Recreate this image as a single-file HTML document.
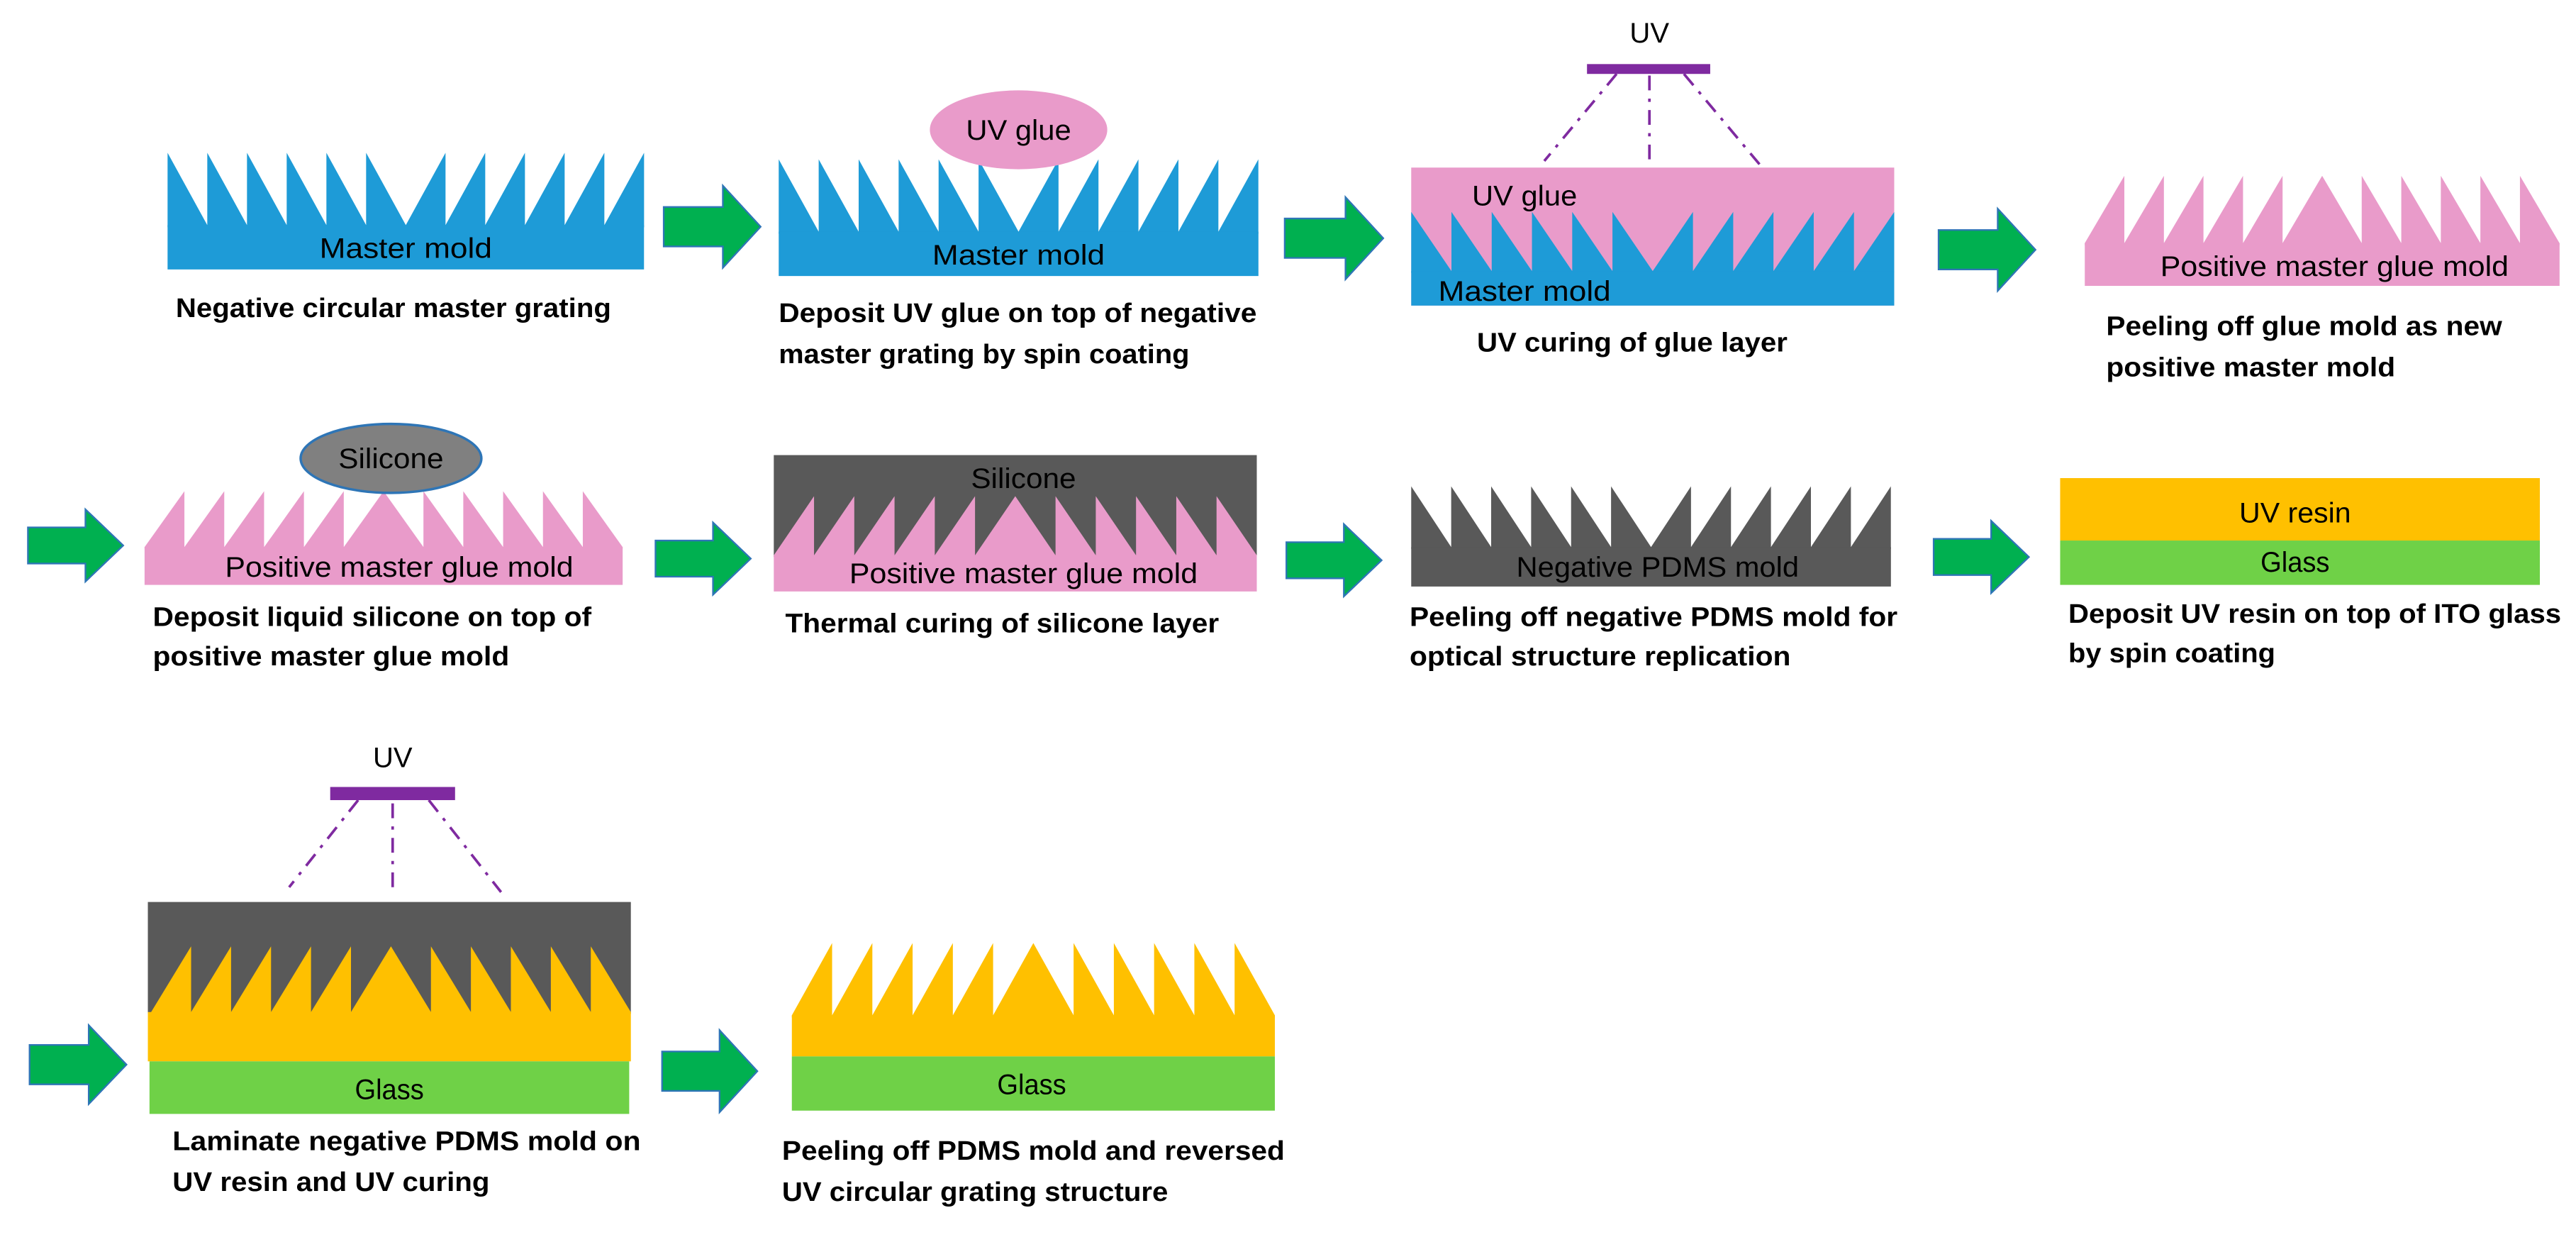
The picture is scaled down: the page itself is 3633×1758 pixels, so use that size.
<!DOCTYPE html>
<html><head><meta charset="utf-8"><style>
html,body{margin:0;padding:0;background:#fff;}
svg{display:block;}
text{font-family:"Liberation Sans",sans-serif;fill:#000;}
.cap{font-weight:bold;font-size:16.5px;}
.lab{font-size:17px;}
</style></head><body>
<svg width="3633" height="1758" viewBox="0 0 1568 759" preserveAspectRatio="none" xmlns="http://www.w3.org/2000/svg">
<defs>
<polygon id="neg" points="0,1.03 0,0 1,1 1,0 2,1 2,0 3,1 3,0 4,1 4,0 5,1 5,0 6,1 7,0 7,1 8,0 8,1 9,0 9,1 10,0 10,1 11,0 11,1 12,0 12,1.03"/>
<polygon id="pos" points="0,1.03 0,1 1,0 1,1 2,0 2,1 3,0 3,1 4,0 4,1 5,0 5,1 6,0 7,1 7,0 8,1 8,0 9,1 9,0 10,1 10,0 11,1 11,0 12,1 12,1.03"/>
</defs>
<g fill="#00b050" stroke="#2e75b6" stroke-width="1">
<polygon points="404,126 440,126 440,113 463,138 440,163 440,150 404,150"/>
<polygon points="782,133 819,133 819,120 842,145 819,170 819,157 782,157"/>
<polygon points="1180,140 1216,140 1216,127 1239,152 1216,177 1216,164 1180,164"/>
<polygon points="17,321 52,321 52,310 75,332 52,354 52,343 17,343"/>
<polygon points="399,329 434,329 434,318 457,340 434,362 434,351 399,351"/>
<polygon points="783,330 818,330 818,319 841,341 818,363 818,352 783,352"/>
<polygon points="1177,328 1212,328 1212,317 1235,339 1212,361 1212,350 1177,350"/>
<polygon points="18,636 54,636 54,624 77,648 54,672 54,660 18,660"/>
<polygon points="403,640 438,640 438,627 461,652 438,677 438,664 403,664"/>
</g>
<!-- P1 -->
<use href="#neg" fill="#1e9bd7" transform="translate(102,93) scale(24.17,44)"/>
<rect x="102" y="137" width="290" height="27" fill="#1e9bd7"/>
<text class="lab" x="247" y="157" text-anchor="middle" textLength="105" lengthAdjust="spacingAndGlyphs">Master mold</text>
<text class="cap" x="107" y="193" textLength="265" lengthAdjust="spacingAndGlyphs">Negative circular master grating</text>
<!-- P2 -->
<use href="#neg" fill="#1e9bd7" transform="translate(474,97) scale(24.33,44)"/>
<rect x="474" y="141" width="292" height="27" fill="#1e9bd7"/>
<ellipse cx="620" cy="79" rx="54" ry="24" fill="#e99bca"/>
<text class="lab" x="620" y="85" text-anchor="middle" textLength="64" lengthAdjust="spacingAndGlyphs">UV glue</text>
<text class="lab" x="620" y="161" text-anchor="middle" textLength="105" lengthAdjust="spacingAndGlyphs">Master mold</text>
<text class="cap" x="474" y="196" textLength="291" lengthAdjust="spacingAndGlyphs">Deposit UV glue on top of negative</text>
<text class="cap" x="474" y="221" textLength="250" lengthAdjust="spacingAndGlyphs">master grating by spin coating</text>
<!-- P3 -->
<rect x="859" y="102" width="294" height="84" fill="#e99bca"/>
<use href="#neg" fill="#1e9bd7" transform="translate(859,129) scale(24.5,36)"/>
<rect x="859" y="165" width="294" height="21" fill="#1e9bd7"/>
<text class="lab" x="928" y="125" text-anchor="middle" textLength="64" lengthAdjust="spacingAndGlyphs">UV glue</text>
<text class="lab" x="928" y="183" text-anchor="middle" textLength="105" lengthAdjust="spacingAndGlyphs">Master mold</text>
<text class="lab" x="1004" y="26" text-anchor="middle" textLength="24" lengthAdjust="spacingAndGlyphs">UV</text>
<rect x="966" y="39" width="75" height="6" fill="#7f2aa0"/>
<g stroke="#7f2aa0" stroke-width="1.6" stroke-dasharray="9 5 2 5" fill="none">
<line x1="984" y1="45" x2="940" y2="98"/>
<line x1="1004" y1="46" x2="1004" y2="100"/>
<line x1="1025" y1="45" x2="1071" y2="100"/>
</g>
<text class="cap" x="899" y="214" textLength="189" lengthAdjust="spacingAndGlyphs">UV curing of glue layer</text>
<!-- P4 -->
<use href="#pos" fill="#e99bca" transform="translate(1269,107) scale(24.08,41)"/>
<rect x="1269" y="148" width="289" height="26" fill="#e99bca"/>
<text class="lab" x="1421" y="168" text-anchor="middle" textLength="212" lengthAdjust="spacingAndGlyphs">Positive master glue mold</text>
<text class="cap" x="1282" y="204" textLength="241" lengthAdjust="spacingAndGlyphs">Peeling off glue mold as new</text>
<text class="cap" x="1282" y="229" textLength="176" lengthAdjust="spacingAndGlyphs">positive master mold</text>
<!-- P5 -->
<use href="#pos" fill="#e99bca" transform="translate(88,299) scale(24.25,34)"/>
<rect x="88" y="333" width="291" height="23" fill="#e99bca"/>
<ellipse cx="238" cy="279" rx="55" ry="21" fill="#808080" stroke="#2e75b6" stroke-width="1.5"/>
<text class="lab" x="238" y="285" text-anchor="middle" textLength="64" lengthAdjust="spacingAndGlyphs">Silicone</text>
<text class="lab" x="243" y="351" text-anchor="middle" textLength="212" lengthAdjust="spacingAndGlyphs">Positive master glue mold</text>
<text class="cap" x="93" y="381" textLength="267" lengthAdjust="spacingAndGlyphs">Deposit liquid silicone on top of</text>
<text class="cap" x="93" y="405" textLength="217" lengthAdjust="spacingAndGlyphs">positive master glue mold</text>
<!-- P6 -->
<rect x="471" y="277" width="294" height="62" fill="#595959"/>
<use href="#pos" fill="#e99bca" transform="translate(471,302) scale(24.5,36)"/>
<rect x="471" y="338" width="294" height="22" fill="#e99bca"/>
<text class="lab" x="623" y="297" text-anchor="middle" textLength="64" lengthAdjust="spacingAndGlyphs">Silicone</text>
<text class="lab" x="623" y="355" text-anchor="middle" textLength="212" lengthAdjust="spacingAndGlyphs">Positive master glue mold</text>
<text class="cap" x="478" y="385" textLength="264" lengthAdjust="spacingAndGlyphs">Thermal curing of silicone layer</text>
<!-- P7 -->
<use href="#neg" fill="#595959" transform="translate(859,296) scale(24.33,37)"/>
<rect x="859" y="333" width="292" height="24" fill="#595959"/>
<text class="lab" x="1009" y="351" text-anchor="middle" textLength="172" lengthAdjust="spacingAndGlyphs">Negative PDMS mold</text>
<text class="cap" x="858" y="381" textLength="297" lengthAdjust="spacingAndGlyphs">Peeling off negative PDMS mold for</text>
<text class="cap" x="858" y="405" textLength="232" lengthAdjust="spacingAndGlyphs">optical structure replication</text>
<!-- P8 -->
<rect x="1254" y="291" width="292" height="38" fill="#ffc000"/>
<rect x="1254" y="329" width="292" height="27" fill="#6fd147"/>
<text class="lab" x="1397" y="318" text-anchor="middle" textLength="68" lengthAdjust="spacingAndGlyphs">UV resin</text>
<text class="lab" x="1397" y="348" text-anchor="middle" textLength="42" lengthAdjust="spacingAndGlyphs">Glass</text>
<text class="cap" x="1259" y="379" textLength="300" lengthAdjust="spacingAndGlyphs">Deposit UV resin on top of ITO glass</text>
<text class="cap" x="1259" y="403" textLength="126" lengthAdjust="spacingAndGlyphs">by spin coating</text>
<!-- P9 -->
<text class="lab" x="239" y="467" text-anchor="middle" textLength="24" lengthAdjust="spacingAndGlyphs">UV</text>
<rect x="201" y="479" width="76" height="8" fill="#7f2aa0"/>
<g stroke="#7f2aa0" stroke-width="1.6" stroke-dasharray="9 5 2 5" fill="none">
<line x1="218" y1="487" x2="176" y2="540"/>
<line x1="239" y1="489" x2="239" y2="543"/>
<line x1="261" y1="487" x2="305" y2="543"/>
</g>
<rect x="90" y="549" width="294" height="68" fill="#595959"/>
<use href="#pos" fill="#ffc000" transform="translate(92,576) scale(24.33,40)"/>
<rect x="90" y="616" width="294" height="30" fill="#ffc000"/>
<rect x="91" y="646" width="292" height="32" fill="#6fd147"/>
<text class="lab" x="237" y="669" text-anchor="middle" textLength="42" lengthAdjust="spacingAndGlyphs">Glass</text>
<text class="cap" x="105" y="700" textLength="285" lengthAdjust="spacingAndGlyphs">Laminate negative PDMS mold on</text>
<text class="cap" x="105" y="725" textLength="193" lengthAdjust="spacingAndGlyphs">UV resin and UV curing</text>
<!-- P10 -->
<use href="#pos" fill="#ffc000" transform="translate(482,574) scale(24.5,44)"/>
<rect x="482" y="618" width="294" height="25" fill="#ffc000"/>
<rect x="482" y="643" width="294" height="33" fill="#6fd147"/>
<text class="lab" x="628" y="666" text-anchor="middle" textLength="42" lengthAdjust="spacingAndGlyphs">Glass</text>
<text class="cap" x="476" y="706" textLength="306" lengthAdjust="spacingAndGlyphs">Peeling off PDMS mold and reversed</text>
<text class="cap" x="476" y="731" textLength="235" lengthAdjust="spacingAndGlyphs">UV circular grating structure</text>
</svg>
</body></html>
